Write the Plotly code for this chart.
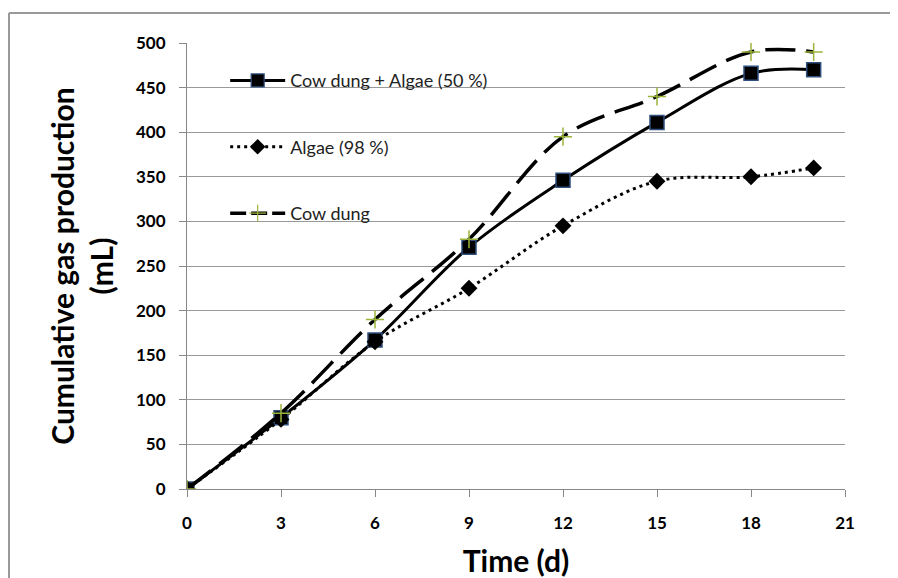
import plotly.graph_objects as go

days = [0, 3, 6, 9, 12, 15, 18, 20]
mix_values = [0, 80, 167, 271, 346, 411, 466, 470]
algae_values = [0, 78, 165, 225, 295, 345, 350, 360]
cow_values = [0, 85, 190, 280, 395, 440, 490, 490]

x_ticks = [0, 3, 6, 9, 12, 15, 18, 21]
y_ticks = [0, 50, 100, 150, 200, 250, 300, 350, 400, 450, 500]

names = ["Cow dung + Algae (50 %)", "Algae (98 %)", "Cow dung"]

FONT = "Lato, 'Open Sans', sans-serif"
CROSS = "#9AB43C"

styles = [
    dict(line=dict(color="black", width=3, shape="spline"),
         marker=dict(symbol="square", size=14, color="black", line=dict(color="#2F4F7F", width=1.5)),
         lmarker=dict(symbol="square", size=13, color="black", line=dict(color="#2F4F7F", width=1.2))),
    dict(line=dict(color="black", width=3, dash="3px,4px", shape="spline"),
         marker=dict(symbol="diamond", size=13, color="black"),
         lmarker=dict(symbol="diamond", size=12, color="black")),
    dict(line=dict(color="black", width=3.5, dash="30px,11px", shape="spline"),
         marker=dict(symbol="cross-thin", size=13, color=CROSS, line=dict(color=CROSS, width=1.5)),
         lmarker=dict(symbol="cross-thin", size=12, color=CROSS, line=dict(color=CROSS, width=1.2))),
]
series = [mix_values, algae_values, cow_values]

fig = go.Figure()
for name, vals, st in zip(names, series, styles):
    fig.add_trace(go.Scatter(x=days, y=vals, name=name, showlegend=False,
                             mode="lines+markers", line=st["line"], marker=st["marker"]))
for i, (name, st) in enumerate(zip(names, styles)):
    lline = dict(st["line"])
    lline.pop("shape", None)
    if "dash" in lline and lline["dash"].startswith("30"):
        lline["dash"] = "16px,5px"
    fig.add_trace(go.Scatter(x=[None], y=[None], name=name, legendgroup=f"g{i}",
                             mode="lines+markers", line=lline, marker=st["lmarker"]))

W, H = 890, 570
L, R, T, B = 179, 53, 35, 89
pw, ph = W - L - R, H - T - B

fig.update_layout(
    width=W, height=H,
    margin=dict(l=L, r=R, t=T, b=B, autoexpand=False),
    paper_bgcolor="white", plot_bgcolor="white",
    font=dict(family=FONT, color="black", size=13),
    legend=dict(x=0.058, y=0.957, xanchor="left", yanchor="top",
                bgcolor="rgba(0,0,0,0)", tracegroupgap=40, itemwidth=55,
                font=dict(size=18, color="#222")),
    xaxis=dict(range=[0, 21], tickvals=x_ticks, showgrid=False, automargin=False,
               showline=True, linecolor="#888", linewidth=1,
               ticks="outside", tickcolor="#888", ticklen=7, ticklabelstandoff=12,
               tickfont=dict(size=17, family=FONT, weight="bold"), zeroline=False,
               title=dict(text="<b>Time (d)</b>", font=dict(size=30, family=FONT), standoff=20)),
    yaxis=dict(range=[0, 500], tickvals=y_ticks, showgrid=True, gridcolor="#999", gridwidth=1,
               automargin=False,
               showline=True, linecolor="#888", linewidth=1,
               ticks="outside", tickcolor="#888", ticklen=7, ticklabelstandoff=10,
               tickfont=dict(size=17, family=FONT, weight="bold"), zeroline=False,
               title=dict(text="<b>Cumulative gas production<br>(mL)</b>", font=dict(size=30, family=FONT), standoff=13)),
)

# outer chart-area border (left and top edges visible)
x_left = (1 - L) / pw
y_top = (H - B - 5) / ph
fig.add_shape(type="line", xref="paper", yref="paper", x0=x_left, x1=(W - L) / pw + 0.1,
              y0=y_top, y1=y_top, line=dict(color="#999", width=2))
fig.add_shape(type="line", xref="paper", yref="paper", x0=x_left, x1=x_left,
              y0=y_top, y1=-B / ph - 0.1, line=dict(color="#999", width=2))

fig.write_html("out.html")
